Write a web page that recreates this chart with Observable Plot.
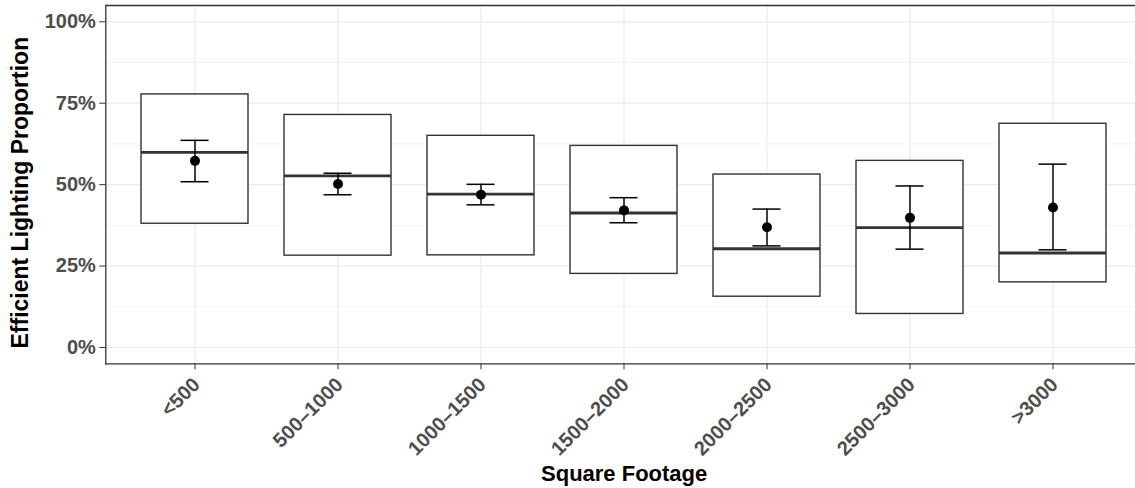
<!DOCTYPE html>
<html>
<head>
<meta charset="utf-8">
<script src="https://cdn.jsdelivr.net/npm/d3@7"></script>
<script src="https://cdn.jsdelivr.net/npm/@observablehq/plot@0.6"></script>
<style>
  html, body { margin: 0; padding: 0; background: #fff; overflow: hidden; }
  #chart svg { display: block; }
</style>
</head>
<body>
<div id="chart"></div>
<script>
const categories = ["<500", "500–1000", "1000–1500", "1500–2000", "2000–2500", "2500–3000", ">3000"];
const boxLower  = [0.380, 0.282, 0.283, 0.226, 0.156, 0.103, 0.200];
const boxMedian = [0.599, 0.527, 0.471, 0.413, 0.303, 0.368, 0.290];
const boxUpper  = [0.777, 0.714, 0.650, 0.619, 0.531, 0.573, 0.687];
const meanValue = [0.573, 0.502, 0.469, 0.421, 0.369, 0.398, 0.430];
const errLower  = [0.509, 0.469, 0.438, 0.383, 0.312, 0.302, 0.300];
const errUpper  = [0.636, 0.535, 0.501, 0.460, 0.425, 0.496, 0.563];
const majorTicks = [0, 0.25, 0.5, 0.75, 1];
const minorTicks = [0.125, 0.375, 0.625, 0.875];
const xTitle = "Square Footage";
const yTitle = "Efficient Lighting Proportion";

const rows = categories.map((c, i) => ({
  cat: c, lo: boxLower[i], med: boxMedian[i], hi: boxUpper[i],
  mean: meanValue[i], elo: errLower[i], ehi: errUpper[i]
}));

const FONT = "'Liberation Sans', Arial, Helvetica, sans-serif";
const GRID = "#EBEBEB";

const chart = Plot.plot({
  width: 1135,
  height: 488,
  marginLeft: 105.3,
  marginRight: -7,
  marginTop: 5,
  marginBottom: 124.7,
  style: { fontFamily: FONT, background: "white", overflow: "visible" },
  x: { type: "band", domain: categories, paddingInner: 0.25, paddingOuter: 0.225, align: 0.5 },
  y: { domain: [-0.05, 1.05] },
  marks: [
    Plot.ruleY(minorTicks, { y: d => d, stroke: GRID, strokeWidth: 0.6 }),
    Plot.ruleY(majorTicks, { y: d => d, stroke: GRID, strokeWidth: 1.2 }),
    Plot.gridX({ stroke: GRID, strokeOpacity: 1, strokeWidth: 1.2 }),
    Plot.barY(rows, { x: "cat", y1: "lo", y2: "hi", fill: "white", stroke: "#333333", strokeWidth: 1.4 }),
    Plot.tickY(rows, { x: "cat", y: "med", stroke: "#333333", strokeWidth: 2.9 }),
    Plot.ruleX(rows, { x: "cat", y1: "elo", y2: "ehi", stroke: "black", strokeWidth: 1.5 }),
    Plot.tickY(rows, { x: "cat", y: "elo", stroke: "black", strokeWidth: 1.5, insetLeft: 39.5, insetRight: 39.5 }),
    Plot.tickY(rows, { x: "cat", y: "ehi", stroke: "black", strokeWidth: 1.5, insetLeft: 39.5, insetRight: 39.5 }),
    Plot.dot(rows, { x: "cat", y: "mean", r: 5, fill: "black", stroke: null }),
    Plot.frame({ anchor: "left", stroke: "#333333", strokeWidth: 1.3 }),
    Plot.frame({ anchor: "top", stroke: "#333333", strokeWidth: 1.3 }),
    Plot.frame({ anchor: "bottom", stroke: "#333333", strokeWidth: 1.3 }),
    Plot.axisY(majorTicks, {
      tickSize: 6, tickPadding: 4, stroke: "#333333", fill: "#4D4D4D",
      tickFormat: d => Math.round(d * 100) + "%",
      fontSize: 20, fontWeight: "bold", label: null
    }),
    Plot.axisX({ tickSize: 6, stroke: "#333333", tickFormat: () => "", label: null }),
    Plot.text(categories, {
      x: d => d, frameAnchor: "bottom", dy: 12, dx: -4,
      rotate: -45, textAnchor: "end", lineAnchor: "top",
      fontSize: 20, fontWeight: "bold", fill: "#4D4D4D"
    }),
    Plot.text([xTitle], {
      frameAnchor: "bottom", dy: 102, lineAnchor: "top", textAnchor: "middle",
      fontSize: 22, fontWeight: "bold", fill: "black"
    }),
    Plot.text([yTitle], {
      y: () => 0.5, frameAnchor: "left", dx: -85, dy: 8, rotate: -90,
      textAnchor: "middle", lineAnchor: "middle",
      fontSize: 23, fontWeight: "bold", fill: "black"
    })
  ]
});
document.getElementById("chart").appendChild(chart);
</script>
</body>
</html>
